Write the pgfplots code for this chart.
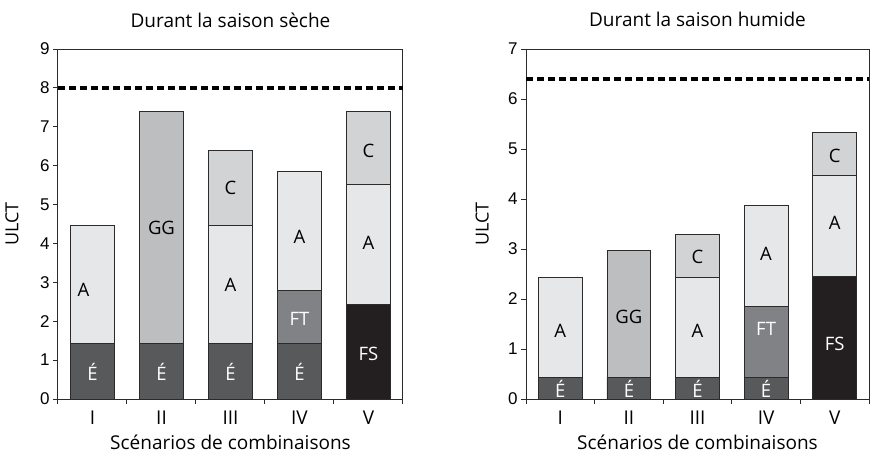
\documentclass[border=0pt]{standalone}
\usepackage{pgfplots}
\pgfplotsset{compat=1.18}
\usepackage{fontspec}
\setmainfont{Open Sans}
\newfontfamily\numfont{Liberation Sans}
\definecolor{cE}{HTML}{58595B}
\definecolor{cA}{HTML}{E6E7E8}
\definecolor{cGG}{HTML}{BCBEC0}
\definecolor{cC}{HTML}{D1D3D4}
\definecolor{cFT}{HTML}{808285}
\definecolor{cFS}{HTML}{231F20}
\definecolor{edge}{HTML}{2B2B2B}
\tikzset{
  seg/.style={draw=edge, line width=0.9pt, fill=#1},
  lab/.style={font=\fontsize{18.5}{20}\selectfont, text=#1, inner sep=0pt},
}
\pgfplotsset{
  mybars/.style={
    scale only axis, width=345pt, height=350pt,
    xmin=0.5, xmax=5.5, ymin=0,
    xtick={0.5,1.5,...,5.5}, x tick label as interval, xticklabels={I,II,III,IV,V},
    tick align=outside, xtick pos=bottom, ytick pos=left,
    major tick length=5pt,
    axis line style={draw=edge, line width=1pt},
    tick style={draw=edge, line width=1pt},
    ybar stacked, bar width=0.64,
    /pgf/number format/assume math mode=true,
    yticklabel style={font=\numfont\fontsize{17}{18}\selectfont},
    xticklabel style={font=\fontsize{19}{20}\selectfont, yshift=-3.5pt},
    every axis title/.style={font=\fontsize{19}{20}\selectfont, at={(0.5,1)}, anchor=base, yshift=22pt},
    every axis x label/.style={font=\fontsize{19}{20}\selectfont, at={(0.5,0)}, anchor=base, yshift=-50pt},
    xlabel={Scénarios de combinaisons}, ylabel={ULCT},
    extra y tick style={major tick length=0pt, grid=major, major grid style={draw=black, line width=4pt, dash pattern=on 7pt off 4pt}},
    extra y tick labels={},
  },
}
\begin{document}
\begin{tikzpicture}
\begin{axis}[mybars, at={(0pt,0pt)}, anchor=south west,
  ymax=9, ytick={0,1,...,9}, extra y ticks={8},
  title={Durant la saison sèche},
  every axis y label/.style={font=\fontsize{18}{20}\selectfont, at={(-0.1333,0.5)}, anchor=center, rotate=90}]
\addplot[seg=cE] coordinates {(1,1.43) (2,1.43) (3,1.43) (4,1.43) (5,0)};
\addplot[seg=cFS] coordinates {(1,0) (2,0) (3,0) (4,0) (5,2.43)};
\addplot[seg=cFT] coordinates {(1,0) (2,0) (3,0) (4,1.37) (5,0)};
\addplot[seg=cGG] coordinates {(1,0) (2,5.97) (3,0) (4,0) (5,0)};
\addplot[seg=cA] coordinates {(1,3.02) (2,0) (3,3.02) (4,3.06) (5,3.09)};
\addplot[seg=cC] coordinates {(1,0) (2,0) (3,1.94) (4,0) (5,1.88)};
\coordinate (s1) at (axis cs:1,0.70);
\coordinate (s2) at (axis cs:2,0.70);
\coordinate (s3) at (axis cs:3,0.70);
\coordinate (s4) at (axis cs:4,0.70);
\coordinate (s5) at (axis cs:0.87,2.80);
\coordinate (s6) at (axis cs:2,4.40);
\coordinate (s7) at (axis cs:3,2.93);
\coordinate (s8) at (axis cs:3,5.42);
\coordinate (s9) at (axis cs:4,2.07);
\coordinate (s10) at (axis cs:4,4.16);
\coordinate (s11) at (axis cs:5,1.17);
\coordinate (s12) at (axis cs:5,4.02);
\coordinate (s13) at (axis cs:5,6.38);
\end{axis}
\node[lab=white] at (s1) {É};
\node[lab=white] at (s2) {É};
\node[lab=white] at (s3) {É};
\node[lab=white] at (s4) {É};
\node[lab=black] at (s5) {A};
\node[lab=black] at (s6) {GG};
\node[lab=black] at (s7) {A};
\node[lab=black] at (s8) {C};
\node[lab=white] at (s9) {FT};
\node[lab=black] at (s10) {A};
\node[lab=white] at (s11) {FS};
\node[lab=black] at (s12) {A};
\node[lab=black] at (s13) {C};
\begin{axis}[mybars, at={(468pt,0pt)}, anchor=south west, width=343pt,
  ymax=7, ytick={0,1,...,7}, extra y ticks={6.4},
  title={Durant la saison humide},
  every axis y label/.style={font=\fontsize{18}{20}\selectfont, at={(-0.128,0.5)}, anchor=center, rotate=90}]
\addplot[seg=cE] coordinates {(1,0.43) (2,0.43) (3,0.43) (4,0.43) (5,0)};
\addplot[seg=cFS] coordinates {(1,0) (2,0) (3,0) (4,0) (5,2.45)};
\addplot[seg=cFT] coordinates {(1,0) (2,0) (3,0) (4,1.42) (5,0)};
\addplot[seg=cGG] coordinates {(1,0) (2,2.54) (3,0) (4,0) (5,0)};
\addplot[seg=cA] coordinates {(1,2.01) (2,0) (3,2.01) (4,2.02) (5,2.02)};
\addplot[seg=cC] coordinates {(1,0) (2,0) (3,0.86) (4,0) (5,0.86)};
\coordinate (h1) at (axis cs:1,0.21);
\coordinate (h2) at (axis cs:2,0.21);
\coordinate (h3) at (axis cs:3,0.21);
\coordinate (h4) at (axis cs:4,0.21);
\coordinate (h5) at (axis cs:1,1.37);
\coordinate (h6) at (axis cs:2,1.64);
\coordinate (h7) at (axis cs:3,1.37);
\coordinate (h8) at (axis cs:3,2.85);
\coordinate (h9) at (axis cs:4,1.40);
\coordinate (h10) at (axis cs:4,2.90);
\coordinate (h11) at (axis cs:5,1.10);
\coordinate (h12) at (axis cs:5,3.52);
\coordinate (h13) at (axis cs:5,4.87);
\end{axis}
\node[lab=white] at (h1) {É};
\node[lab=white] at (h2) {É};
\node[lab=white] at (h3) {É};
\node[lab=white] at (h4) {É};
\node[lab=black] at (h5) {A};
\node[lab=black] at (h6) {GG};
\node[lab=black] at (h7) {A};
\node[lab=black] at (h8) {C};
\node[lab=white] at (h9) {FT};
\node[lab=black] at (h10) {A};
\node[lab=white] at (h11) {FS};
\node[lab=black] at (h12) {A};
\node[lab=black] at (h13) {C};
\pgfresetboundingbox
\path (-58pt,-57pt) rectangle (815pt,399pt);
\end{tikzpicture}
\end{document}
